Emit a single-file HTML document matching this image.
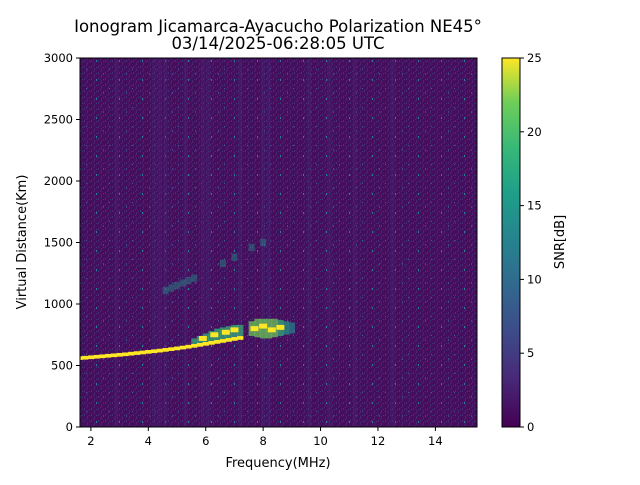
<!DOCTYPE html>
<html><head><meta charset="utf-8"><style>
body{margin:0;background:#fff;font-family:"Liberation Sans","DejaVu Sans",sans-serif}
svg text{font-family:"DejaVu Sans","Liberation Sans",sans-serif}
</style></head><body>
<svg id="c" width="640" height="480" viewBox="0 0 640 480">
<defs>
<linearGradient id="vir" x1="0" y1="1" x2="0" y2="0">
<stop offset="0" stop-color="#440154"/><stop offset="0.13" stop-color="#482878"/><stop offset="0.25" stop-color="#3e4989"/><stop offset="0.38" stop-color="#31688e"/><stop offset="0.5" stop-color="#26828e"/><stop offset="0.63" stop-color="#1f9e89"/><stop offset="0.75" stop-color="#35b779"/><stop offset="0.88" stop-color="#6ece58"/><stop offset="1" stop-color="#fde725"/>
</linearGradient>
<pattern id="noise" width="7" height="6" patternUnits="userSpaceOnUse">
<rect width="7" height="6" fill="#450f5e"/><rect x="0" y="0" width="1" height="2" fill="#482d74"/><rect x="3" y="2" width="1" height="3" fill="#47256f"/><rect x="5" y="1" width="1" height="1" fill="#3f3a80"/><rect x="2" y="5" width="1" height="1" fill="#482878"/>
</pattern>
<pattern id="speck" width="23" height="19" patternUnits="userSpaceOnUse">
<rect x="4" y="3" width="1" height="2" fill="#26828e"/><rect x="17" y="12" width="1" height="1" fill="#31688e"/><rect x="11" y="16" width="1" height="2" fill="#3e4989"/>
</pattern>
<clipPath id="pc"><rect x="80" y="58" width="397" height="369"/></clipPath>
</defs>
<text x="278" y="32" text-anchor="middle" font-size="16.5">Ionogram Jicamarca-Ayacucho Polarization NE45°</text>
<text x="278" y="49" text-anchor="middle" font-size="16.5">03/14/2025-06:28:05 UTC</text>
<rect x="80" y="58" width="397" height="369" fill="url(#noise)"/>
<rect x="80" y="58" width="397" height="369" fill="url(#speck)"/>
<g id="marks" clip-path="url(#pc)"></g>
<rect x="80" y="58" width="397" height="369" fill="none" stroke="#000" stroke-width="1"/>
<g id="axes"></g>
<text x="278" y="467" text-anchor="middle" font-size="13">Frequency(MHz)</text>
<text transform="translate(26,242) rotate(-90)" text-anchor="middle" font-size="13">Virtual Distance(Km)</text>
<rect x="502" y="58" width="18" height="369" fill="url(#vir)" stroke="#000" stroke-width="1"/>
<text transform="translate(564,242) rotate(-90)" text-anchor="middle" font-size="13">SNR[dB]</text>
</svg>
<script>
const xTicks=[2,4,6,8,10,12,14];
const yTicks=[0,500,1000,1500,2000,2500,3000];
const cbTicks=[0,5,10,15,20,25];
const stripeFreq=[2.9,4.2,4.4,4.6,5.3,5.9,6.1,7.2,8.0,8.2,9.6,10.3,11.2,12.5];
const stripeSNR=[2,4,4,3,3,3,3,3,4,3,4,3,2,2];
const traceFreq=[1.6,1.8,2.0,2.2,2.4,2.6,2.8,3.0,3.2,3.4,3.6,3.8,4.0,4.2,4.4,4.6,4.8,5.0,5.2,5.4,5.6,5.8,6.0,6.2,6.4,6.6,6.8,7.0,7.2];
const traceHeight=[560,563,567,571,575,579,583,587,591,596,601,606,611,616,621,627,633,639,646,653,660,668,676,684,692,700,708,716,724];
const cloudFreq=[5.6,5.8,6.0,6.2,6.4,6.6,6.8,7.0,7.2,7.6,7.8,8.0,8.2,8.4,8.6,8.8,9.0];
const cloudLow=[665,675,685,695,700,700,705,710,715,740,730,720,720,730,740,750,760];
const cloudHigh=[720,740,760,780,800,810,820,830,830,860,880,880,880,880,870,860,850];
const cloudSNR=[16,16,18,18,18,18,18,18,16,20,20,20,20,20,18,15,12];
const hotFreq=[5.9,6.3,6.7,7.0,7.7,8.0,8.3,8.6];
const hotHeight=[720,750,770,790,800,820,790,810];
const hop2Freq=[4.6,4.8,5.0,5.2,5.4,5.6,6.6,7.0,7.6,8.0];
const hop2Height=[1110,1130,1150,1170,1190,1210,1330,1380,1460,1500];
const X0=1.62,X1=15.45,Y1=3000;
const xs=f=>80+(f-X0)/(X1-X0)*397;
const ys=h=>427-h/Y1*369;
const cb=v=>427-v/25*369;
const NS="http://www.w3.org/2000/svg";
const marks=document.getElementById('marks'),axes=document.getElementById('axes');
function mk(tag,attrs,parent){const e=document.createElementNS(NS,tag);for(const k in attrs)e.setAttribute(k,attrs[k]);parent.appendChild(e);return e;}
const vir=['#440154','#482878','#3e4989','#31688e','#26828e','#1f9e89','#35b779','#6ece58','#b5de2b','#fde725'];
function col(v){return vir[Math.max(0,Math.min(9,Math.round(v/25*9)))];}
stripeFreq.forEach((f,i)=>{const r=mk('rect',{x:xs(f)-2,y:58,width:4,height:369,fill:col(stripeSNR[i]),opacity:0.35},marks);

});
hop2Freq.forEach((f,i)=>{const r=mk('rect',{x:xs(f)-3,y:ys(hop2Height[i]+30),width:6,height:ys(0)-ys(60),fill:'#1f9e89',opacity:0.4},marks);

});
cloudFreq.forEach((f,i)=>{const r=mk('rect',{x:xs(f)-3,y:ys(cloudHigh[i]),width:6.2,height:ys(cloudLow[i])-ys(cloudHigh[i]),fill:col(cloudSNR[i]),opacity:0.7},marks);

});
hotFreq.forEach((f,i)=>{const r=mk('rect',{x:xs(f)-4,y:ys(hotHeight[i]+20),width:8,height:ys(0)-ys(40),fill:'#fde725'},marks);

});
traceFreq.forEach((f,i)=>{const r=mk('rect',{x:xs(f)-3,y:ys(traceHeight[i]+15),width:6.2,height:ys(0)-ys(30),fill:'#fde725'},marks);

});
xTicks.forEach(t=>{const x=xs(t);mk('line',{x1:x,x2:x,y1:427,y2:431,stroke:'#000'},axes);
const tx=mk('text',{x:x,y:445,'text-anchor':'middle','font-size':11.5},axes);tx.textContent=t;

});
yTicks.forEach(t=>{const y=ys(t);mk('line',{x1:76,x2:80,y1:y,y2:y,stroke:'#000'},axes);
const tx=mk('text',{x:73,y:y+4,'text-anchor':'end','font-size':11.5},axes);tx.textContent=t;

});
cbTicks.forEach(t=>{const y=cb(t);mk('line',{x1:520,x2:524,y1:y,y2:y,stroke:'#000'},axes);
const tx=mk('text',{x:527,y:y+4,'font-size':11.5},axes);tx.textContent=t;

});
</script>
</body></html>
